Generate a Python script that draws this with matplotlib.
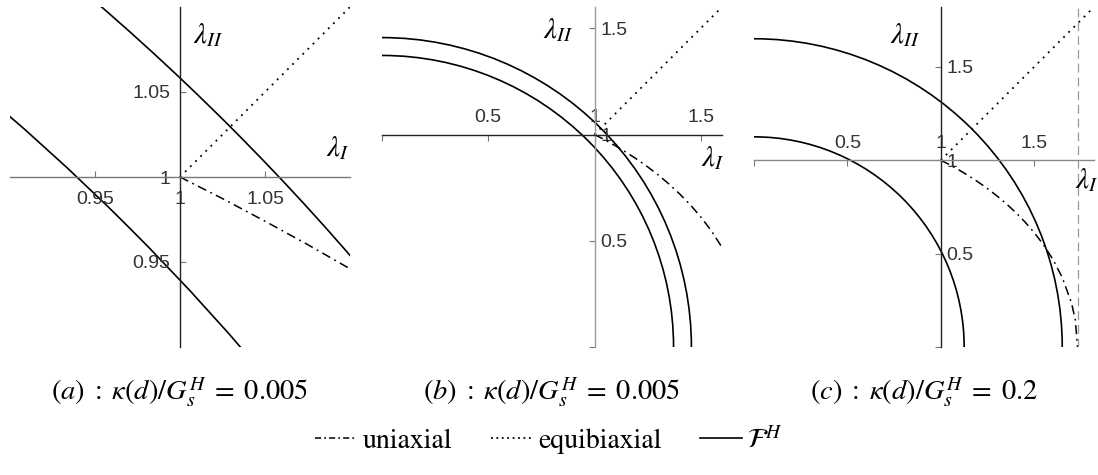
import matplotlib
matplotlib.use("Agg")
import matplotlib.pyplot as plt
from matplotlib.patches import Arc
from matplotlib.lines import Line2D

plt.rcParams["mathtext.fontset"] = "stix"
plt.rcParams["font.family"] = ["STIXGeneral", "DejaVu Serif"]

# uniaxial path (lambda_I, lambda_II)
uni_lam_a = [1.0, 1.025, 1.05, 1.075, 1.1]
uni_val_a = [1.0, 0.9873, 0.9740, 0.9603, 0.9460]
uni_lam_bc = [1.0, 1.05, 1.1, 1.15, 1.2, 1.25, 1.3, 1.35, 1.4, 1.45, 1.5,
              1.55, 1.6, 1.65, 1.7, 1.72, 1.732]
uni_val_bc = [1.0, 0.9740, 0.9460, 0.9158, 0.8832, 0.8478, 0.8093, 0.7673,
              0.7211, 0.6699, 0.6124, 0.5466, 0.4690, 0.3725, 0.2345, 0.1442, 0.0]

radii_a = [1.372, 1.456]
radii_b = [1.372, 1.456]
radii_c = [1.125, 1.65]

# axis ranges and ticks
lims = [(0.9, 1.1), (0.0, 1.6), (0.0, 1.82)]
ticks_a = [0.95, 1.0, 1.05]
labels_a = ["0.95", "1", "1.05"]
ticks_bc = [0.0, 0.5, 1.0, 1.5]
labels_bc = ["", "0.5", "1", "1.5"]
asymptote_c = 1.732

captions = [r"$(a)\;:\;\kappa(d)/G_s^H\;=\;0.005$",
            r"$(b)\;:\;\kappa(d)/G_s^H\;=\;0.005$",
            r"$(c)\;:\;\kappa(d)/G_s^H\;=\;0.2$"]

W, H = 1098, 475
fig = plt.figure(figsize=(W / 100, H / 100), dpi=100)

lefts = [10, 382, 754]
axes = [fig.add_axes([l / W, 1 - 347 / H, 340 / W, 340 / H]) for l in lefts]

dashdot = (0, (6, 3, 1.2, 3))
dotted = (0, (1, 3))

data = [(uni_lam_a, uni_val_a, radii_a),
        (uni_lam_bc, uni_val_bc, radii_b),
        (uni_lam_bc, uni_val_bc, radii_c)]

for i, ax in enumerate(axes):
    lo, hi = lims[i]
    ax.set_xlim(lo, hi)
    ax.set_ylim(lo, hi)
    ax.patch.set_visible(False)

    lam, val, radii = data[i]
    ax.plot(lam, val, color="black", lw=1.1, linestyle=dashdot)
    ax.plot([1.0, hi], [1.0, hi], color="black", lw=1.3, linestyle=dotted)
    for r in radii:
        ax.add_patch(Arc((0, 0), 2 * r, 2 * r, theta1=0, theta2=90,
                         color="black", lw=1.2))

    if i == 0:
        ax.spines["left"].set_position(("data", 1.0))
        ax.spines["bottom"].set_position(("data", 1.0))
        ax.spines["top"].set_visible(False)
        ax.spines["right"].set_visible(False)
        ax.spines["left"].set_color("#222222")
        ax.spines["bottom"].set_color("#777777")
        ax.set_xticks(ticks_a, labels_a)
        ax.set_yticks(ticks_a, labels_a)
        ax.tick_params(axis="x", direction="in", length=4, pad=10,
                       colors="#777777", labelcolor="#333333")
        ax.tick_params(axis="y", direction="in", length=4, pad=7,
                       colors="#777777", labelcolor="#333333")
    else:
        ax.spines["right"].set_position(("data", 1.0))
        ax.spines["top"].set_position(("data", 1.0))
        ax.spines["left"].set_visible(False)
        ax.spines["bottom"].set_visible(False)
        ax.xaxis.tick_top()
        ax.yaxis.tick_right()
        if i == 1:
            ax.spines["right"].set_color("#999999")
            ax.spines["top"].set_color("#222222")
        else:
            ax.spines["right"].set_color("#222222")
            ax.spines["top"].set_color("#888888")
        ax.set_xticks(ticks_bc, labels_bc)
        ax.set_yticks(ticks_bc, labels_bc)
        ax.tick_params(axis="x", direction="in", length=4, pad=6,
                       colors="#777777", labelcolor="#333333")
        ax.tick_params(axis="y", direction="in", length=4, pad=4,
                       colors="#777777", labelcolor="#333333")

    for lab in ax.get_xticklabels() + ax.get_yticklabels():
        lab.set_family("Liberation Sans")
        lab.set_fontsize(14)

    for sp in ax.spines.values():
        sp.set_linewidth(1.0)

    ax.text(0.5, -0.135, captions[i], transform=ax.transAxes,
            ha="center", va="center", fontsize=20.5)

axes[2].axvline(asymptote_c, color="#999999", lw=0.9, linestyle=(0, (7, 4)))

# axis labels
axes[0].text(0.582, 0.918, r"$\lambda_{II}$", transform=axes[0].transAxes,
             ha="center", va="center", fontsize=21)
axes[0].text(0.965, 0.585, r"$\lambda_{I}$", transform=axes[0].transAxes,
             ha="center", va="center", fontsize=21)
axes[1].text(0.518, 0.932, r"$\lambda_{II}$", transform=axes[1].transAxes,
             ha="center", va="center", fontsize=21)
axes[1].text(0.972, 0.556, r"$\lambda_{I}$", transform=axes[1].transAxes,
             ha="center", va="center", fontsize=21)
axes[2].text(0.444, 0.918, r"$\lambda_{II}$", transform=axes[2].transAxes,
             ha="center", va="center", fontsize=21)
axes[2].text(0.98, 0.49, r"$\lambda_{I}$", transform=axes[2].transAxes,
             ha="center", va="center", fontsize=21)

handles = [Line2D([], [], color="black", lw=1.1, linestyle=(0, (4, 2, 1.2, 2))),
           Line2D([], [], color="black", lw=1.3, linestyle=(0, (1, 2))),
           Line2D([], [], color="black", lw=1.2)]
fig.legend(handles, ["uniaxial", "equibiaxial", r"$\mathcal{F}^H$"],
           loc="center", bbox_to_anchor=(0.5, 1 - 440 / H), ncol=3,
           frameon=False, fontsize=20, handlelength=1.5, handletextpad=0.2,
           columnspacing=1.4)

fig.savefig("out.png", dpi=100)
